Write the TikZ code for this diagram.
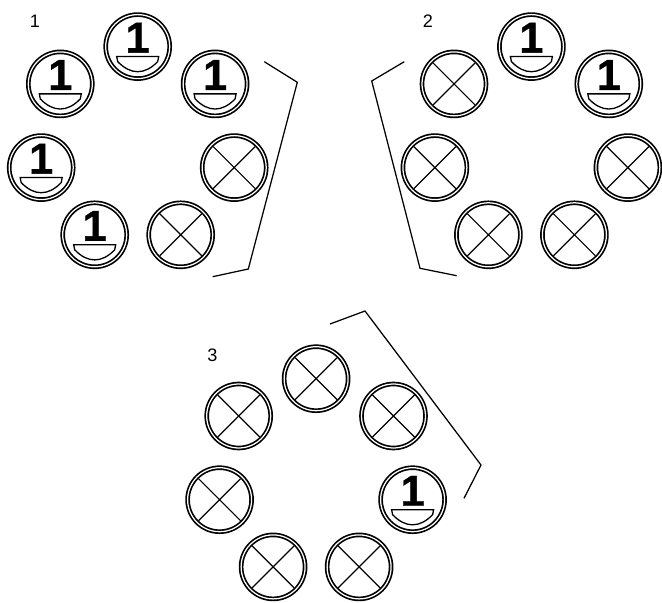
\documentclass[tikz,border=0pt]{standalone}
\usepackage{fontspec}
\setmainfont{Liberation Sans}
\newfontfamily\cifra{Liberation Sans}[BoldFeatures={FakeBold=0.8}]

\begin{document}
\begin{tikzpicture}[x=0.02cm, y=0.02cm]
    % Stili
    \tikzstyle{moneta} = [circle, draw, double, double distance=0.025cm, line width=0.034cm, minimum size=1.28cm, inner sep=0pt]
    \tikzstyle{uno} = [moneta, font=\cifra\fontsize{24.6}{24.6}\bfseries\selectfont, text height=0.62cm, text depth=0.38cm]
    \tikzstyle{croce} = [moneta,
        path picture={\draw[line width=0.024cm] ([shift={(-21,-21)}]path picture bounding box.center) -- ([shift={(21,21)}]path picture bounding box.center)
            ([shift={(-21,21)}]path picture bounding box.center) -- ([shift={(21,-21)}]path picture bounding box.center);}]
    \tikzstyle{segmento} = [line width=0.026cm]
    \tikzstyle{numero} = [font=\fontsize{10.3}{12}\selectfont, inner sep=0pt]
    \tikzstyle{parentesi} = [line width=0.025cm]

    \useasboundingbox (0,0) rectangle (662,602);

    % Gruppo 1
    \node [numero] (n1) at (35,580.5) {1};
    \node [uno] (a1) at (137.7,555.4) {1};
    \node [uno] (a2) at (215.1,518.1) {1};
    \node [croce] (a3) at (234.2,434.4) {};
    \node [croce] (a4) at (180.7,367.2) {};
    \node [uno] (a5) at (94.7,367.2) {1};
    \node [uno] (a6) at (41.2,434.4) {1};
    \node [uno] (a7) at (60.3,518.1) {1};
    \draw [parentesi] (264.3,540.3) -- (297.3,519.7) -- (248.3,333) -- (212.7,325.3);

    % Gruppo 2
    \node [numero] (n2) at (428,581) {2};
    \node [uno] (b1) at (531.4,555.4) {1};
    \node [uno] (b2) at (608.8,518.1) {1};
    \node [croce] (b3) at (627.9,434.4) {};
    \node [croce] (b4) at (574.4,367.2) {};
    \node [croce] (b5) at (488.4,367.2) {};
    \node [croce] (b6) at (434.9,434.4) {};
    \node [croce] (b7) at (454.0,518.1) {};
    \draw [parentesi] (404.3,540.3) -- (371.7,521) -- (420,333.7) -- (456.7,326.3);

    % Gruppo 3
    \node [numero] (n3) at (212.5,247) {3};
    \node [croce] (c1) at (316.1,223.3) {};
    \node [croce] (c2) at (393.5,186.0) {};
    \node [uno] (c3) at (412.6,102.3) {1};
    \node [croce] (c4) at (359.1,35.1) {};
    \node [croce] (c5) at (273.1,35.1) {};
    \node [croce] (c6) at (219.6,102.3) {};
    \node [croce] (c7) at (238.7,186.0) {};
    \draw [parentesi] (330,278) -- (365,291) -- (481,137) -- (464,103.7);

    % Segmenti sotto le cifre
    \foreach \m in {a1,a2,a5,a6,a7,b1,b2,c3}
        \draw [segmento, shift={(\m.center)}] (-21,-10) -- (21,-10) -- (20,-15) .. controls (7,-28.5) and (-7,-28.5) .. (-20,-15) -- cycle;

\end{tikzpicture}
\end{document}
